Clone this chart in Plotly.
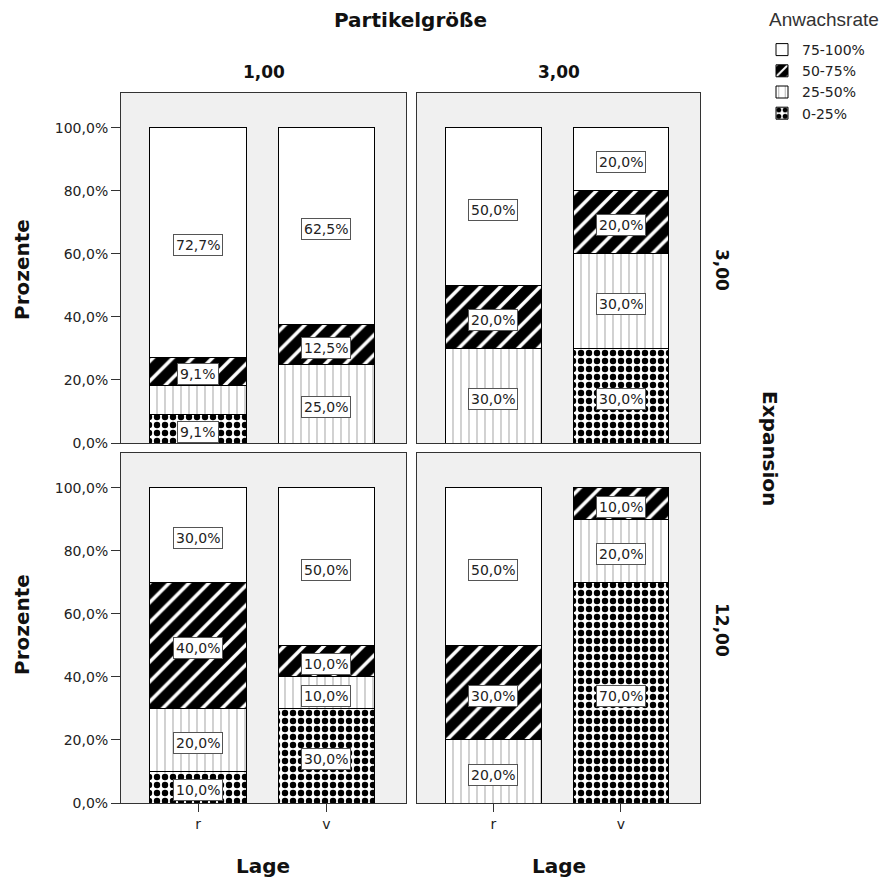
import plotly.graph_objects as go
from plotly.subplots import make_subplots

categories = ["r", "v"]
groups = ["0-25%", "25-50%", "50-75%", "75-100%"]
col_titles = ["1,00", "3,00"]
row_titles = ["3,00", "12,00"]

# values per panel: panel[(row, col)][group] = [r, v]
tl = {"0-25%": [9.1, 0.0], "25-50%": [9.1, 25.0], "50-75%": [9.1, 12.5], "75-100%": [72.7, 62.5]}
tr = {"0-25%": [0.0, 30.0], "25-50%": [30.0, 30.0], "50-75%": [20.0, 20.0], "75-100%": [50.0, 20.0]}
bl = {"0-25%": [10.0, 30.0], "25-50%": [20.0, 10.0], "50-75%": [40.0, 10.0], "75-100%": [30.0, 50.0]}
br = {"0-25%": [0.0, 70.0], "25-50%": [20.0, 20.0], "50-75%": [30.0, 10.0], "75-100%": [50.0, 0.0]}
panels = {(1, 1): tl, (1, 2): tr, (2, 1): bl, (2, 2): br}
hidden_labels = {((1, 1), "25-50%", "r")}

ytick_vals = [0, 20, 40, 60, 80, 100]
ytick_text = ["0,0%", "20,0%", "40,0%", "60,0%", "80,0%", "100,0%"]

styles = {
    "0-25%": dict(color="white", pattern=dict(shape=".", fgcolor="black", bgcolor="white", fgopacity=1, size=8, solidity=0.5)),
    "25-50%": dict(color="white", pattern=dict(shape="|", fgcolor="#a0a0a0", bgcolor="white", fgopacity=1, size=8, solidity=0.12)),
    "50-75%": dict(color="black", pattern=dict(shape="/", fgcolor="white", bgcolor="black", fgopacity=1, size=14, solidity=0.25)),
    "75-100%": dict(color="white", pattern=dict(shape="")),
}

fig = make_subplots(rows=2, cols=2, horizontal_spacing=0.02, vertical_spacing=0.02)

for (r, c), data in panels.items():
    for g in groups:
        st = styles[g]
        fig.add_trace(go.Bar(
            x=categories, y=data[g], name=g, legendgroup=g,
            showlegend=(r == 1 and c == 1),
            width=0.75,
            marker=dict(color=st["color"], pattern=st["pattern"], line=dict(color="black", width=1)),
            hoverinfo="skip",
        ), row=r, col=c)

# annotations for segment labels
axis_idx = {(1, 1): "", (1, 2): "2", (2, 1): "3", (2, 2): "4"}
for (r, c), data in panels.items():
    for ci, cat in enumerate(categories):
        base = 0.0
        for g in groups:
            v = data[g][ci]
            if v > 0 and ((r, c), g, cat) not in hidden_labels:
                fig.add_annotation(
                    x=cat, y=base + v / 2, xref="x" + axis_idx[(r, c)], yref="y" + axis_idx[(r, c)],
                    text=f"{v:.1f}".replace(".", ",") + "%", showarrow=False, yshift=-3,
                    font=dict(family="DejaVu Sans", size=14, color="#222"),
                    bgcolor="white", bordercolor="#555", borderwidth=1, borderpad=2,
                )
            base += v

L, R, T, B = 121, 193, 93, 78
W, H = 893, 881
pw = W - L - R
ph = H - T - B
xd = [[0, 285 / pw], [296 / pw, 1]]
yd = [[(H - B - 443) / ph, 1], [0, (H - B - 453) / ph]]

for (r, c) in panels:
    fig.update_xaxes(row=r, col=c, domain=xd[c - 1], range=[-0.6, 1.62],
                     showline=True, linecolor="#333", linewidth=1, mirror=True,
                     ticks="outside" if r == 2 else "", ticklen=8, tickcolor="#333",
                     showticklabels=(r == 2), showgrid=False, zeroline=False,
                     tickfont=dict(family="DejaVu Sans", size=14, color="#222"))
    fig.update_yaxes(row=r, col=c, domain=yd[r - 1], range=[0, 111.1],
                     showline=True, linecolor="#333", linewidth=1, mirror=True,
                     ticks="outside" if c == 1 else "", ticklen=9, tickcolor="#333",
                     tickvals=ytick_vals, ticktext=ytick_text,
                     showticklabels=(c == 1), showgrid=False, zeroline=False,
                     tickfont=dict(family="DejaVu Sans", size=14, color="#222"))

def px_x(x):
    return (x - L) / pw

def px_y(y):
    return (H - B - y) / ph

big = dict(family="DejaVu Sans", size=20, color="#111")
num = dict(family="DejaVu Sans", size=17, color="#111")
texts = [
    ("<b>Partikelgröße</b>", 410, 20, 0, big),
    ("<b>" + col_titles[0] + "</b>", 264, 72, 0, num),
    ("<b>" + col_titles[1] + "</b>", 559, 72, 0, num),
    ("<b>" + row_titles[0] + "</b>", 722, 270, 90, num),
    ("<b>" + row_titles[1] + "</b>", 722, 630, 90, num),
    ("<b>Expansion</b>", 770, 448, 90, big),
    ("<b>Prozente</b>", 22, 270, -90, big),
    ("<b>Prozente</b>", 22, 625, -90, big),
    ("<b>Lage</b>", 263, 866, 0, big),
    ("<b>Lage</b>", 559, 866, 0, big),
]
for t, x, y, a, f in texts:
    fig.add_annotation(text=t, x=px_x(x), y=px_y(y), xref="paper", yref="paper",
                       showarrow=False, textangle=a, font=f, xanchor="center", yanchor="middle")

fig.add_annotation(text="Anwachsrate", x=px_x(767), y=px_y(20), xref="paper", yref="paper",
                   showarrow=False, xanchor="left", yanchor="middle",
                   font=dict(family="Liberation Sans", size=19, color="#333"))

fig.update_layout(
    width=W, height=H, margin=dict(l=L, r=R, t=T, b=B, autoexpand=False),
    barmode="stack", bargap=0.25,
    plot_bgcolor="#f0f0f0", paper_bgcolor="white",
    legend=dict(x=px_x(762), y=px_y(34), xanchor="left", yanchor="top", traceorder="reversed",
                font=dict(family="DejaVu Sans", size=14, color="#222"), itemwidth=30,
                tracegroupgap=0, bgcolor="rgba(0,0,0,0)"),
    showlegend=True,
)

fig.write_html("out.html", config={"displayModeBar": False},
               post_script="document.body.style.margin='0';document.body.style.overflow='hidden';")
